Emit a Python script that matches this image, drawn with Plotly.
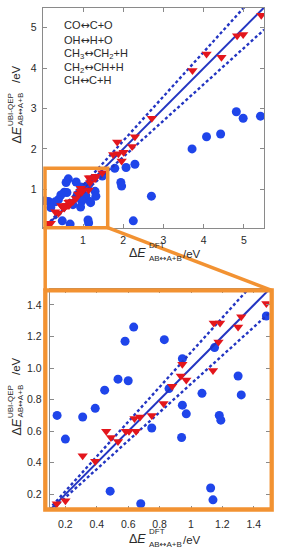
import plotly.graph_objects as go

W, H = 281, 550

# ---------------- data ----------------
blue_x = [1.48, 0.635, 0.58, 0.83, 0.945, 1.15, 0.535, 0.60, 0.45, 0.86, 1.07, 1.30, 1.32,
          0.39, 0.945, 0.97, 0.147, 0.31, 0.20, 0.75, 0.94, 1.18, 1.19, 0.485, 0.68, 1.125,
          1.14, 0.05, 4.81, 4.98, 5.41, 4.42, 4.07, 3.71, 2.70, 2.25, 2.29, 2.07, 1.79,
          1.94, 1.96]
blue_y = [1.33, 1.26, 1.17, 1.18, 1.06, 1.13, 0.93, 0.92, 0.86, 0.87, 0.84, 0.95, 0.83,
          0.745, 0.765, 0.71, 0.70, 0.69, 0.55, 0.62, 0.56, 0.70, 0.67, 0.22, 0.14, 0.24,
          0.165, 0.72, 2.92, 2.76, 2.81, 2.37, 2.30, 2.00, 0.83, 0.22, 1.62, 1.54, 1.52,
          1.17, 1.08]

red_x = [1.48, 1.145, 1.185, 1.32, 1.30, 1.175, 0.945, 1.14, 0.935, 0.97, 0.88, 0.825,
         0.75, 0.675, 0.64, 0.65, 0.605, 0.585, 0.46, 0.49, 0.535, 0.31, 0.39, 0.145, 0.20,
         5.43, 4.83, 4.98, 4.07, 4.44, 3.72, 2.71, 2.29, 1.85, 2.22, 1.75, 1.88, 2.01, 1.96]
red_y = [1.41, 1.285, 1.285, 1.325, 1.26, 1.165, 1.025, 0.985, 0.95, 0.925, 0.885, 0.775,
         0.70, 0.69, 0.68, 0.60, 0.60, 0.60, 0.60, 0.56, 0.535, 0.445, 0.41, 0.14, 0.16,
         5.31, 4.80, 4.83, 4.35, 4.27, 3.94, 2.76, 2.30, 2.17, 2.06, 1.86, 1.88, 1.92, 1.70]

line_x = [0.0, 5.5]
ratio_parity = 1.0
ratio_upper = 1.1
ratio_lower = 0.9

ARW = "<span style='font-family:DejaVu Sans'>↔</span>"
legend_lines = ["CO" + ARW + "C+O", "OH" + ARW + "H+O",
                "CH<sub>3</sub>" + ARW + "CH<sub>2</sub>+H",
                "CH<sub>2</sub>" + ARW + "CH+H", "CH" + ARW + "C+H"]
sub_label = "AB" + ARW + "A+B"

top_ticks = [1, 2, 3, 4, 5]
zoom_ticks = [0.2, 0.4, 0.6, 0.8, 1.0, 1.2, 1.4]
zoom_xtext = ["0.2", "0.4", "0.6", "0.8", "1", "1.2", "1.4"]
zoom_ytext = ["0.2", "0.4", "0.6", "0.8", "1.0", "1.2", "1.4"]

# ---------------- styles ----------------
FONT = "Liberation Sans, Arial, sans-serif"
BLUE = "#1f45ea"
RED = "#e3161c"
LINE = "#2335c2"
ORANGE = "#f29232"
FRAME = "#8a8a8a"
TXT = "#2a2a2a"


def px(x):
    return x / W


def py(y):
    return 1 - y / H


fig = go.Figure()

for xa, ya in (("x", "y"), ("x2", "y2")):
    fig.add_trace(go.Scatter(x=blue_x, y=blue_y, mode="markers", xaxis=xa, yaxis=ya,
                             marker=dict(symbol="circle", size=9, color=BLUE),
                             showlegend=False))
    for r, dash, w in ((ratio_parity, "solid", 2), (ratio_upper, "3px,2.5px", 2.4),
                       (ratio_lower, "3px,2.5px", 2.4)):
        fig.add_trace(go.Scatter(x=line_x, y=[v * r for v in line_x], mode="lines",
                                 xaxis=xa, yaxis=ya,
                                 line=dict(color=LINE, width=w, dash=dash),
                                 showlegend=False))
    fig.add_trace(go.Scatter(x=red_x, y=red_y, mode="markers", xaxis=xa, yaxis=ya,
                             marker=dict(symbol="triangle-down", size=9, color=RED),
                             showlegend=False))

axis_common = dict(showgrid=False, zeroline=False, showline=True, linecolor=FRAME,
                   linewidth=1, mirror="ticks", ticks="inside", ticklen=4,
                   tickcolor=FRAME, tickwidth=1,
                   tickfont=dict(family=FONT, size=10.5, color=TXT))

fig.update_layout(
    width=W, height=H, margin=dict(l=0, r=0, t=0, b=0),
    paper_bgcolor="white", plot_bgcolor="white",
    xaxis=dict(domain=[px(42.75), px(264.1)], range=[0, 5.5], tickvals=top_ticks,
               anchor="y", ticklabelstandoff=3, **axis_common),
    yaxis=dict(domain=[py(227.7), py(7.5)], range=[0.05, 5.5], tickvals=top_ticks,
               anchor="x", ticklabelstandoff=3, **axis_common),
    xaxis2=dict(domain=[px(49.7), px(269.5)], range=[0.1, 1.5], tickvals=zoom_ticks,
                ticktext=zoom_xtext, anchor="y2", ticklabelstandoff=4, **axis_common),
    yaxis2=dict(domain=[py(510.1), py(289.2)], range=[0.1, 1.5], tickvals=zoom_ticks,
                ticktext=zoom_ytext, anchor="x2", ticklabelstandoff=5, **axis_common),
)

# ---------------- orange zoom frames ----------------
shapes = [
    dict(type="rect", xref="paper", yref="paper", x0=px(45), x1=px(107.7),
         y0=py(227.7), y1=py(168.3), line=dict(color=ORANGE, width=3.5)),
    dict(type="rect", xref="paper", yref="paper", x0=px(45.3), x1=px(271.7),
         y0=py(509.5), y1=py(290.3), line=dict(color=ORANGE, width=4.3)),
    dict(type="line", xref="paper", yref="paper", x0=px(45.2), x1=px(45.2),
         y0=py(227.7), y1=py(290.3), line=dict(color=ORANGE, width=3.5)),
    dict(type="line", xref="paper", yref="paper", x0=px(107.7), x1=px(271.7),
         y0=py(227.7), y1=py(290.3), line=dict(color=ORANGE, width=3.5)),
]
fig.update_layout(shapes=shapes)

ann = []
# legend-like labels
for i, t in enumerate(legend_lines):
    yy = [26, 40.5, 54, 67.7, 81][i]
    ann.append(dict(xref="paper", yref="paper", x=px(61.5), y=py(yy), text=t,
                    showarrow=False, xanchor="left", yanchor="middle",
                    font=dict(family=FONT, size=11, color=TXT)))


def xtitle(x_right, yc, sup, sub):
    out = [
        dict(x=px(x_right), y=py(yc), text="Δ<i>E</i>", xanchor="right",
             yanchor="middle", font=dict(family=FONT, size=12.5, color=TXT)),
        dict(x=px(x_right + 1), y=py(yc - 7.5), text=sup, xanchor="left",
             yanchor="middle", font=dict(family=FONT, size=8, color=TXT)),
        dict(x=px(x_right + 0.5), y=py(yc + 5), text=sub, xanchor="left",
             yanchor="middle", font=dict(family=FONT, size=8, color=TXT)),
        dict(x=px(x_right + 35), y=py(yc + 0.5), text="/eV", xanchor="left",
             yanchor="middle", font=dict(family=FONT, size=11.5, color=TXT)),
    ]
    for a in out:
        a.update(xref="paper", yref="paper", showarrow=False, borderpad=0)
    return out


def ytitle(xc, y_bottom, sup, sub):
    out = [
        dict(x=px(xc), y=py(y_bottom), text="Δ<i>E</i>", xanchor="center",
             yanchor="bottom", font=dict(family=FONT, size=12.5, color=TXT)),
        dict(x=px(xc - 5.5), y=py(y_bottom - 18), text=sup, xanchor="center",
             yanchor="bottom", font=dict(family=FONT, size=8, color=TXT)),
        dict(x=px(xc + 4), y=py(y_bottom - 18), text=sub, xanchor="center",
             yanchor="bottom", font=dict(family=FONT, size=8, color=TXT)),
        dict(x=px(xc), y=py(y_bottom - 61), text="/eV", xanchor="center",
             yanchor="bottom", font=dict(family=FONT, size=11.5, color=TXT)),
    ]
    for a in out:
        a.update(xref="paper", yref="paper", showarrow=False, textangle=-90,
                 borderpad=0)
    return out


ann += xtitle(147, 253, "DFT", sub_label)
ann += xtitle(147, 539, "DFT", sub_label)
ann += ytitle(16, 145, "UBI-QEP", sub_label)
ann += ytitle(16, 437, "UBI-QEP", sub_label)

fig.update_layout(annotations=ann)

fig.write_html("out.html", config={"displayModeBar": False},
               post_script="document.body.style.margin='0';document.body.style.padding='0';")
